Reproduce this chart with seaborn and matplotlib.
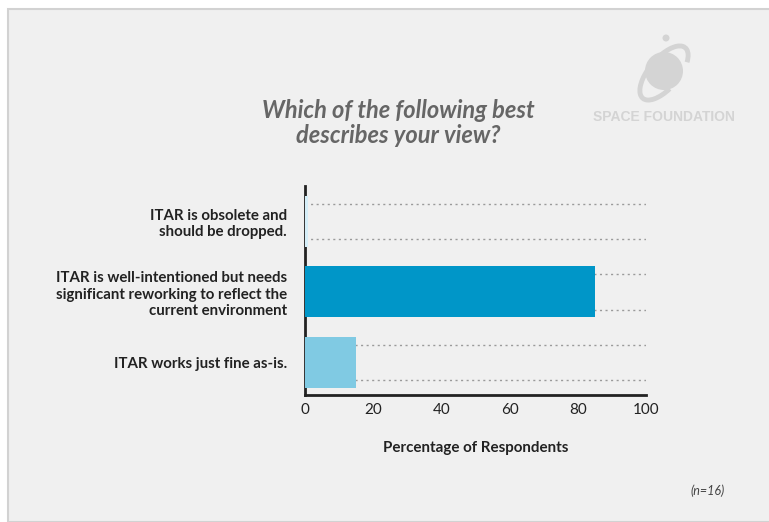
import matplotlib
matplotlib.use("Agg")
import matplotlib.pyplot as plt
import matplotlib.patches as mpatches
import seaborn as sns
import pandas as pd
import numpy as np

# ---- data ----
categories = [
    "ITAR is obsolete and\nshould be dropped.",
    "ITAR is well-intentioned but needs\nsignificant reworking to reflect the\ncurrent environment",
    "ITAR works just fine as-is.",
]
values = [1, 85, 15]
bar_colors = ["#d5eef8", "#0096c8", "#80cae3"]
x_ticks = [0, 20, 40, 60, 80, 100]
title_text = "Which of the following best\ndescribes your view?"
x_label = "Percentage of Respondents"
note_text = "(n=16)"
logo_text = "SPACE FOUNDATION"

sns.set_theme(style="white")
plt.rcParams["font.family"] = ["Lato", "DejaVu Sans"]

W, H = 769, 522
fig = plt.figure(figsize=(W / 100, H / 100), dpi=100)
fig.patch.set_facecolor("white")

# grey panel
panel = mpatches.Rectangle((8 / W, 0), 1 - 8 / W + 0.01, 1 - 9 / H,
                           transform=fig.transFigure, facecolor="#f0f0f0",
                           edgecolor="#d2d2d2", linewidth=1.5, zorder=-10)
fig.patches.append(panel)

ax = fig.add_axes([305 / W, 1 - 395 / H, 341 / W, 209 / H])
ax.set_facecolor("none")

df = pd.DataFrame({"category": categories, "value": values})
sns.barplot(data=df, x="value", y="category", hue="category",
            palette=bar_colors, orient="h", width=0.72, ax=ax,
            legend=False, saturation=1, linewidth=0, zorder=3)

# dotted guide lines above and below each category
pos = np.arange(len(categories))
minor = np.sort(np.concatenate([pos - 0.25, pos + 0.25]))
ax.set_yticks(minor, minor=True)
ax.grid(which="minor", axis="y", color="#9a9a9a", linestyle=(0, (1.5, 2.5)),
        linewidth=1.0, zorder=1)
ax.grid(which="major", visible=False)
ax.tick_params(axis="y", which="minor", length=0)
ax.set_axisbelow(True)

ax.set_xlim(0, 100)
ax.set_ylim(2.46, -0.5)
ax.set_xticks(x_ticks)
ax.set_xticklabels([str(t) for t in x_ticks], fontsize=11, color="#222222")
ax.tick_params(axis="x", which="major", direction="inout", length=6, width=1.5,
               color="#222222", pad=3)
ax.tick_params(axis="y", which="major", length=0, pad=13)
for lab in ax.get_yticklabels():
    lab.set_fontsize(10.8)
    lab.set_fontweight("bold")
    lab.set_color("#222222")
    lab.set_horizontalalignment("right")
    lab.set_multialignment("right")
    lab.set_linespacing(1.2)

for s in ["top", "right"]:
    ax.spines[s].set_visible(False)
for s in ["left", "bottom"]:
    ax.spines[s].set_color("#222222")
    ax.spines[s].set_linewidth(2)

ax.set_ylabel("")
ax.set_xlabel(x_label, fontsize=10.9, fontweight="bold", color="#222222", labelpad=17)

# title
fig.text(398 / W, 1 - 123 / H, title_text, ha="center", va="center",
         fontsize=17, style="italic", fontweight="bold", color="#666666",
         linespacing=1.15)

# note
fig.text(708 / W, 1 - 491 / H, note_text, ha="center", va="center",
         fontsize=9, style="italic", color="#444444")

# logo (light grey)
logo_col = "#d4d4d4"
cx, cy = 664, 71
lax = fig.add_axes([600 / W, 1 - 112 / H, 130 / W, 80 / H])
lax.set_xlim(600, 730)
lax.set_ylim(112, 32)
lax.set_aspect("equal")
lax.axis("off")
lax.add_patch(mpatches.Circle((cx, cy), 19, color=logo_col, lw=0))
lax.add_patch(mpatches.Circle((666, 38), 3.5, color=logo_col, lw=0))
lax.add_patch(mpatches.Arc((cx, cy + 2), 66, 30, angle=-50, theta1=120, theta2=385,
                           color=logo_col, lw=3.5))
fig.text(664 / W, 1 - 117 / H, logo_text, ha="center", va="center",
         fontsize=10, fontweight="heavy", color=logo_col,
         family=["Liberation Sans", "DejaVu Sans"])

fig.savefig("out.png", dpi=100, facecolor=fig.get_facecolor())
